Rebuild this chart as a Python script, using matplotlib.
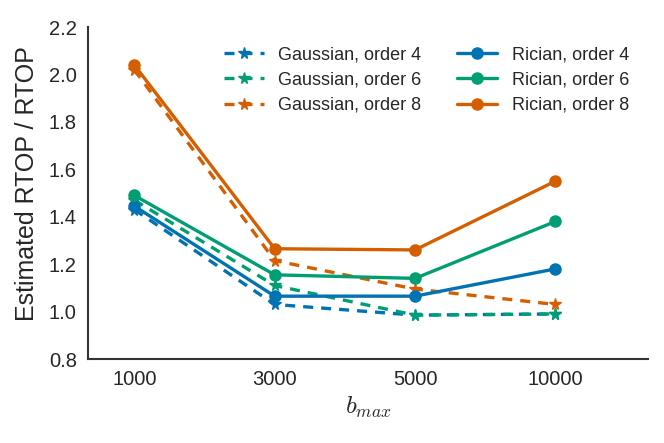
import numpy as np
import matplotlib.pyplot as plt
import seaborn as sns

sns.set_style("white")
plt.rcParams['font.family'] = ['Liberation Sans', 'DejaVu Sans']
plt.rcParams['mathtext.fontset'] = 'cm'

b_values = ["1000", "3000", "5000", "10000"]

gauss_4 = [1.43, 1.03, 0.985, 0.99]
gauss_6 = [1.47, 1.11, 0.985, 0.99]
gauss_8 = [2.02, 1.215, 1.095, 1.03]

rician_4 = [1.445, 1.065, 1.065, 1.18]
rician_6 = [1.49, 1.155, 1.14, 1.38]
rician_8 = [2.04, 1.265, 1.26, 1.55]

colors = ["#0173b2", "#029e73", "#d55e00"]
orders = [4, 6, 8]

fig = plt.figure(figsize=(6.64, 4.43), dpi=100)
ax = fig.add_axes([0.1325, 0.1896, 0.8435, 0.7494])

x = np.arange(len(b_values))
for g, c, o in zip([gauss_4, gauss_6, gauss_8], colors, orders):
    ax.plot(x, g, '--*', color=c, lw=2.4, ms=8.5, dashes=(3, 2.4),
            label=f'Gaussian, order {o}')
for r, c, o in zip([rician_4, rician_6, rician_8], colors, orders):
    ax.plot(x, r, '-o', color=c, lw=2.4, ms=8, label=f'Rician, order {o}')

ax.set_xlim(-0.33, 3.66)
ax.set_ylim(0.8, 2.2)
ax.set_xticks(x)
ax.set_xticklabels(b_values)
ax.set_yticks(np.arange(0.8, 2.21, 0.2))
ax.tick_params(labelsize=14.5, length=0, pad=8, labelcolor='#262626')
ax.set_xlabel('$b_{max}$', fontsize=18, labelpad=4)
ax.set_ylabel('Estimated RTOP / RTOP', fontsize=18, color='#262626')
ax.yaxis.set_label_coords(-0.087, 0.527)
for s in ['top', 'right']:
    ax.spines[s].set_visible(False)
for s in ['left', 'bottom']:
    ax.spines[s].set_color('#333333')
    ax.spines[s].set_linewidth(1.5)

ax.legend(ncol=2, frameon=False, fontsize=13, loc='upper right',
          bbox_to_anchor=(0.995, 0.99), columnspacing=2.0, handlelength=2.2,
          handletextpad=0.8, labelspacing=0.45)

fig.savefig('out.png', dpi=100)
